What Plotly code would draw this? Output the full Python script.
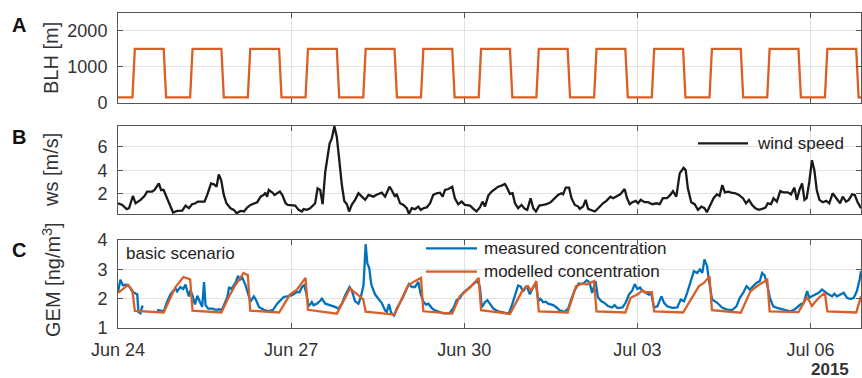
import pandas as pd
import plotly.graph_objects as go

# ---------------- data (hours since 2015-06-24 00:00) ----------------
START = "2015-06-24 00:00"
END_HOURS = 309

x_tick_hours = [0, 72, 144, 216, 288]
x_tick_labels = ["Jun 24", "Jun 27", "Jun 30", "Jul 03", "Jul 06"]

# A: boundary layer height [m]
blh_hours = [0, 6, 7, 19, 20, 30, 31, 43, 44, 54, 55, 67, 68, 78, 79, 91, 92,
             102, 103, 115, 116, 126, 127, 139, 140, 150, 151, 163, 164, 174,
             175, 187, 188, 198, 199, 211, 212, 222, 223, 235, 236, 246, 247,
             259, 260, 270, 271, 283, 284, 294, 295, 307, 308, 309]
blh_values = [150, 150, 1500, 1500, 150, 150, 1500, 1500, 150, 150, 1500, 1500,
              150, 150, 1500, 1500, 150, 150, 1500, 1500, 150, 150, 1500, 1500,
              150, 150, 1500, 1500, 150, 150, 1500, 1500, 150, 150, 1500, 1500,
              150, 150, 1500, 1500, 150, 150, 1500, 1500, 150, 150, 1500, 1500,
              150, 150, 1500, 1500, 150, 150]

# B: wind speed [m/s]
ws_hours = [0, 1.8, 3.6, 4.6, 6.2, 7.3, 9.4, 11.0, 12.1, 14.2, 15.2, 17.0, 17.9,
            19.0, 20.4, 21.8, 22.9, 24.6, 26.7, 28.1, 29.5, 30.8, 32.2, 33.2,
            35.0, 36.0, 37.1, 38.7, 39.9, 41.0, 41.9, 42.9, 44.0, 45.1, 46.8,
            48.2, 49.3, 51.0, 52.4, 53.7, 55.1, 56.5, 57.9, 59.3, 60.6, 61.3,
            62.0, 62.7, 64.1, 65.1, 66.2, 67.3, 68.3, 69.7, 70.6,
            71.6, 73.7, 75.1, 76.5, 77.2, 78.5, 79.9, 81.3, 82.0, 83.0, 84.1,
            85.1, 86.2, 88.0, 88.9, 90.0, 91.0, 92.1, 93.1, 94.1, 95.2, 96.1,
            97.2, 98.6, 100.0, 101.4, 102.8, 104.2, 105.3, 106.2, 107.3, 108.3,
            109.7, 111.1, 112.9, 113.8, 115.2, 115.9, 117.3, 118.7, 120.1,
            121.0, 122.2, 123.5, 124.9, 125.9, 127.0, 128.4, 129.8, 131.1,
            132.5, 133.9, 135.0, 136.0, 137.4, 139.0, 140.1, 141.5, 142.9,
            144.3, 146.4, 147.8, 149.1, 150.5, 151.6, 152.6, 154.0, 155.4,
            156.8, 158.1, 159.5, 160.9, 161.6, 163.0, 164.1, 165.1, 166.4,
            167.8, 169.2, 170.2, 171.6, 172.7, 173.8, 175.2, 176.8, 178.2,
            179.9, 181.7, 183.0, 184.4, 185.1, 186.2, 187.6, 188.6, 190.0,
            191.4, 192.0, 193.4, 194.5, 195.5, 196.9, 198.3, 199.7, 201.7,
            203.1, 204.8, 205.9, 207.3, 208.9, 210.7, 211.7, 212.8, 213.9,
            215.3, 216.3, 217.4, 219.0, 220.4, 222.2, 223.9, 225.3, 226.6,
            228.3, 229.7, 230.8, 232.2, 233.6, 235.2, 236.1, 237.0, 238.4,
            239.8, 241.2, 242.6, 243.9, 244.9, 246.3, 247.7, 249.1, 250.2,
            251.3, 252.4, 253.8, 255.0, 256.8, 258.2, 259.9, 261.2, 262.4,
            263.7, 265.1, 266.5, 267.9, 269.3, 270.2, 271.6, 272.6, 274.0,
            275.4, 276.7, 278.5, 279.9, 281.3, 282.3, 283.4, 284.5, 285.5,
            286.4, 287.5, 288.6, 289.6, 290.6, 291.7, 293.1, 294.5, 295.8,
            297.2, 298.3, 299.3, 300.3, 301.4, 302.8, 303.9, 305.3, 306.4,
            307.6, 309.0]
ws_values = [1.21, 1.07, 0.71, 0.79, 1.83, 1.21, 1.50, 1.83, 2.20, 2.20, 2.34,
             2.90, 2.34, 2.34, 1.64, 0.93, 0.42, 0.56, 0.59, 1.01, 0.79, 1.13,
             1.21, 1.35, 1.35, 1.35, 1.92, 2.90, 2.82, 2.62, 3.66, 3.18, 1.92,
             1.21, 0.79, 0.65, 0.37, 0.56, 0.51, 0.85, 1.07, 1.21, 1.30, 1.77,
             1.92, 2.11, 1.77, 2.34, 2.14, 1.92, 2.06, 2.20, 1.92, 1.21, 1.07,
             1.07, 1.01, 0.65, 0.51, 0.71, 0.65, 0.79, 1.13, 1.21, 2.48, 2.34,
             1.13, 3.89, 6.28, 6.71, 7.75, 6.85, 4.74, 2.76, 1.41, 1.13, 0.51,
             1.07, 1.50, 2.06, 1.77, 1.50, 1.92, 1.86, 1.77, 1.92, 2.00, 2.11,
             1.77, 2.62, 2.34, 1.77, 2.00, 1.21, 1.07, 0.79, 0.31, 0.79, 0.71,
             0.93, 0.65, 0.79, 0.85, 1.21, 1.92, 2.06, 2.11, 1.77, 2.34, 2.42,
             2.62, 1.64, 1.13, 1.35, 1.07, 1.01, 0.73, 0.51, 0.85, 1.35, 0.93,
             1.86, 2.20, 2.42, 2.62, 2.71, 2.85, 2.62, 2.00, 2.06, 1.21, 0.79,
             1.07, 0.73, 0.65, 1.64, 0.79, 0.51, 1.01, 1.07, 1.13, 1.30, 1.64,
             1.92, 2.06, 1.97, 2.54, 2.54, 1.64, 1.07, 0.93, 0.73, 0.93, 1.50,
             0.73, 0.65, 0.51, 0.79, 1.21, 1.41, 1.77, 1.64, 1.83, 1.97, 2.42,
             1.64, 1.13, 1.30, 1.41, 1.21, 1.50, 1.30, 1.30, 1.13, 1.21, 1.13,
             1.64, 1.64, 1.92, 2.25, 1.77, 3.75, 4.23, 4.03, 2.48, 1.30, 1.13,
             0.65, 0.93, 0.79, 0.45, 1.07, 1.64, 1.97, 1.83, 2.76, 2.14, 2.20,
             2.11, 2.06, 1.92, 1.64, 1.21, 1.50, 1.07, 0.79, 0.65, 0.73, 0.85,
             1.21, 1.13, 1.64, 1.35, 2.25, 2.14, 2.14, 1.97, 2.54, 1.50, 2.34,
             2.90, 1.50, 1.64, 3.04, 4.87, 4.03, 2.34, 1.50, 1.30, 1.41, 1.21,
             2.06, 1.77, 1.50, 1.21, 1.77, 1.35, 1.50, 1.97, 1.92, 1.30, 0.79]

# C: measured GEM concentration [ng/m3]  (None = missing data)
meas_hours = [0, 1, 2, 3.5, 4.9, 5.9, 7.3, 8.0, 8.5, 9.3, 10.0, 10.5, 11.0,
              16.3, 17.3, 18.3, 19.0, 20.4, 21.8, 23.2, 23.9, 24.6, 25.9, 27.1,
              28.1, 28.8, 29.5, 30.1, 31.1, 32.0, 33.0, 34.1, 35.0, 35.8, 36.4,
              37.5, 39.3, 40.7, 42.0, 43.2, 44.4, 45.5, 46.2, 47.1, 48.2, 48.9,
              49.9, 50.7, 51.7, 53.1, 54.0, 55.1, 56.5, 57.6, 58.6, 60.6, 62.7,
              64.5, 66.2, 67.6, 68.9, 70.3, 72.4, 74.4, 75.5, 76.5, 77.4, 78.3,
              79.2, 79.9, 80.6, 81.3, 82.7, 84.0, 84.8, 86.2, 88.2, 90.3, 91.7,
              93.1, 94.5, 95.5, 96.3, 97.2, 98.6, 100.0, 101.0, 102.1, 103.0,
              103.7, 104.5, 105.3, 106.9, 108.3, 109.7, 111.1, 111.8, 112.7,
              113.6, 114.8, 115.9, 117.3, 118.7, 120.1, 121.0, 122.2, 123.5,
              124.9, 125.9, 127.0, 128.1, 129.1, 130.5, 131.8, 133.2, 135.3,
              137.8, 139.5, 140.8, 142.2, 143.6, 145.0, 146.4, 147.5, 148.5,
              149.6, 150.5, 151.3, 152.6, 153.6, 154.7, 156.1, 158.1, 160.2,
              162.5, 163.7, 165.1, 166.4, 167.4, 168.5, 169.9, 171.3, 172.7,
              173.8, 174.8, 175.7, 176.8, 177.9, 178.9, 181.0, 182.4, 183.7,
              185.8, 187.2, 188.6, 190.0, 191.6, 193.3, 195.0, 196.1, 197.2,
              198.6, 199.6, 200.9, 202.4, 203.8, 205.5, 206.5, 207.7, 209.8,
              211.1, 212.5, 213.9, 214.9, 216.0, 217.1, 218.1, 219.4, 220.8,
              221.8, 222.9, 224.3, 226.0, 227.1, 228.4, 230.5, 232.6, 234.0,
              235.4, 236.7, 238.1, 239.5, 240.9, 242.0, 243.0, 243.9, 245.0,
              245.7, 247.1, 249.2, 251.3, 253.4, 255.4, 257.2, 258.6, 260.0,
              261.4, 262.8, 264.2, 265.5, 266.9, 267.9, 268.9, 270.0, 271.1,
              272.5, 274.1, 275.5, 277.6, 279.7, 281.7, 283.8, 285.2, 286.6,
              287.5, 288.6, 290.0, 291.4, 292.8, 294.2, 295.6, 297.0, 297.9,
              299.0, 300.4, 301.8, 303.2, 304.6, 306.0, 307.3, 308.4, 309.0]
meas_values = [2.23, 2.65, 2.46, 2.48, 2.40, 2.25, 2.18, 2.15, 1.55, 1.50, 1.72,
               1.75, None, 1.62, 1.60, 1.57, 1.57, 1.89, 2.15, 2.29, 2.35, 2.25,
               2.40, 2.33, 2.48, 2.25, 2.08, 2.29, 2.08, 1.80, 2.10, 1.89, 1.72,
               2.57, 1.78, 1.66, 1.66, 1.62, 1.64, 1.62, 1.83, 2.06, 2.40, 2.33,
               2.46, 2.55, 2.78, 2.65, 2.72, 2.45, 2.20, 1.90, 2.08, 1.92, 1.72,
               1.62, 1.58, 1.62, 1.83, 1.95, 2.06, 2.08, 2.12, 2.23, 2.22, 2.40,
               2.46, 2.20, 1.75, 1.80, 1.89, 1.78, 1.83, 1.92, 2.00, 1.83, 1.78,
               1.72, 1.66, 1.83, 2.12, 2.30, 2.40, 2.29, 1.91, 1.83, 2.06, 2.46,
               3.86, 3.20, 3.05, 2.50, 2.15, 2.00, 1.85, 1.60, 1.55, 1.82, 1.52,
               1.43, 1.66, 1.87, 2.08, 2.35, 2.50, 2.40, 2.40, 2.57, 2.15, 1.89,
               1.80, 1.83, 1.68, 1.60, 1.55, 1.50, 1.50, 1.68, 1.95, 2.03, 2.20,
               2.30, 2.42, 2.50, 2.55, 2.60, 2.40, 1.70, 1.88, 1.95, 1.83, 1.66,
               1.57, 1.52, 1.49, 1.75, 2.10, 2.45, 2.42, 2.25, 2.44, 2.15, 2.40,
               2.50, 1.92, 2.00, 1.88, 1.90, 1.83, 1.78, 1.70, 1.60, 1.55, 1.66,
               2.00, 2.30, 2.52, 2.50, 2.63, 2.55, 2.20, 2.60, 2.05, 1.92, 1.85,
               1.75, 1.70, 1.78, 1.68, 1.70, 1.86, 2.14, 2.28, 2.50, 2.33, 2.38,
               2.27, 2.20, 2.14, 2.18, 1.70, 1.74, 2.08, 1.86, 1.74, 1.69, 1.70,
               1.97, 1.91, 2.20, 2.54, 2.94, 2.88, 3.00, 2.88, 3.34, 3.11, 2.65,
               1.97, 1.86, 1.69, 1.63, 1.61, 1.74, 2.03, 2.20, 2.43, 2.31, 2.43,
               2.54, 2.60, 2.88, 2.80, 2.48, 2.03, 1.74, 1.69, 1.65, 1.61, 1.57,
               1.65, 1.80, 1.86, 2.26, 2.03, 2.08, 2.14, 2.20, 2.31, 2.22, 2.14,
               2.08, 2.17, 2.08, 2.14, 2.20, 2.03, 1.99, 2.03, 2.26, 2.65, 2.94]

# C: modelled GEM concentration [ng/m3]
mod_hours = [0, 4.2, 6, 7, 19, 21.8, 23.9, 27.2, 30, 31, 43, 46, 48.5, 52.2, 54,
             55, 67, 71.5, 74.4, 78, 79, 91, 96.5, 102, 103, 115, 120.6, 123.4,
             126, 127, 139, 142.1, 146.2, 150, 151, 163, 168.4, 170.5, 171.8,
             174, 175, 187, 190.5, 193.3, 195, 198, 199, 211, 213.2, 216, 218.1,
             219.4, 222, 223, 235, 241.6, 243.7, 246, 247, 259, 263, 265.8, 270,
             271, 283, 286.6, 288.6, 291.4, 294, 295, 307, 309]
mod_values = [2.20, 2.47, 2.28, 1.58, 1.53, 2.03, 2.40, 2.74, 2.66, 1.59, 1.53,
              2.05, 2.42, 2.88, 2.80, 1.59, 1.53, 2.14, 2.31, 2.71, 1.62, 1.49,
              2.35, 1.98, 1.56, 1.46, 2.45, 2.60, 2.71, 1.57, 1.49, 2.08, 2.37,
              2.71, 1.61, 1.48, 2.31, 2.43, 2.27, 2.60, 1.57, 1.53, 2.43, 2.52,
              2.48, 2.60, 1.57, 1.53, 2.03, 2.14, 2.28, 2.22, 2.22, 1.57, 1.53,
              2.43, 2.54, 2.77, 1.61, 1.52, 2.25, 2.43, 2.65, 1.57, 1.54, 2.06,
              1.75, 2.03, 2.20, 1.57, 1.53, 2.08]

# ---------------- figure ----------------
t0 = pd.Timestamp(START)


def to_time(hours):
    return [t0 + pd.Timedelta(hours=h) for h in hours]


ORANGE = "#D95F26"
BLUE = "#0072BD"
BLACK = "#1a1a1a"
FONT = "Liberation Sans, Arial, Helvetica, sans-serif"
TXT = "#333333"

fig = go.Figure()
fig.add_trace(go.Scatter(x=to_time(blh_hours), y=blh_values, mode="lines",
                         line=dict(color=ORANGE, width=2.3), xaxis="x", yaxis="y",
                         showlegend=False, name="BLH"))
fig.add_trace(go.Scatter(x=to_time(ws_hours), y=ws_values, mode="lines",
                         line=dict(color=BLACK, width=2.3), xaxis="x2", yaxis="y2",
                         showlegend=False, name="wind speed"))
fig.add_trace(go.Scatter(x=to_time(meas_hours), y=meas_values, mode="lines",
                         line=dict(color=BLUE, width=2.3), xaxis="x3", yaxis="y3",
                         connectgaps=False, showlegend=False,
                         name="measured concentration"))
fig.add_trace(go.Scatter(x=to_time(mod_hours), y=mod_values, mode="lines",
                         line=dict(color=ORANGE, width=2.3), xaxis="x3", yaxis="y3",
                         showlegend=False, name="modelled concentration"))

x_range = [t0, t0 + pd.Timedelta(hours=END_HOURS)]
x_ticks = to_time(x_tick_hours)

xcommon = dict(range=x_range, tickvals=x_ticks, ticktext=x_tick_labels,
               showgrid=True, gridcolor="#e2e2e2", gridwidth=1,
               showline=True, linecolor="#555555", linewidth=1, mirror="ticks",
               ticks="inside", ticklen=5, tickcolor="#555555", tickwidth=1,
               zeroline=False, automargin=False,
               tickfont=dict(family=FONT, size=18, color=TXT),
               ticklabelstandoff=5)
ycommon = dict(showgrid=True, gridcolor="#e2e2e2", gridwidth=1,
               showline=True, linecolor="#555555", linewidth=1, mirror="ticks",
               ticks="inside", ticklen=5, tickcolor="#555555", tickwidth=1,
               zeroline=False, automargin=False,
               tickfont=dict(family=FONT, size=18, color=TXT),
               ticklabelstandoff=6)

fig.update_layout(
    template="none",
    width=862, height=378,
    margin=dict(l=118, r=1, t=13, b=50, pad=0),
    paper_bgcolor="white", plot_bgcolor="white",
    showlegend=False,
    xaxis=dict(xcommon, anchor="y", showticklabels=False, matches="x3"),
    xaxis2=dict(xcommon, anchor="y2", showticklabels=False, matches="x3"),
    xaxis3=dict(xcommon, anchor="y3"),
    yaxis=dict(ycommon, domain=[0.715, 1.0], range=[0, 2500],
               tickvals=[0, 1000, 2000], anchor="x"),
    yaxis2=dict(ycommon, domain=[0.362, 0.642], range=[0.3, 7.8],
                tickvals=[2, 4, 6], anchor="x2"),
    yaxis3=dict(ycommon, domain=[0.0, 0.279], range=[1, 4],
                tickvals=[1, 2, 3, 4], anchor="x3"),
)

PW = 743.0   # plot width in px
PH = 315.0   # plot height in px


def px(xp):
    return (xp - 118) / PW


def py(yp):
    return (328 - yp) / PH


ann = []
for letter, yc in (("A", 25), ("B", 136.5), ("C", 249.5)):
    ann.append(dict(text=f"<b>{letter}</b>", x=px(19), y=py(yc), xref="paper",
                    yref="paper", showarrow=False, xanchor="center",
                    yanchor="middle", font=dict(family=FONT, size=20, color="#111111")))
for label, yc in (("BLH [m]", 58), ("ws [m/s]", 170), ("GEM [ng/m<sup>3</sup>]", 280)):
    ann.append(dict(text=label, x=px(51), y=py(yc), xref="paper", yref="paper",
                    showarrow=False, textangle=-90, xanchor="center",
                    yanchor="middle", font=dict(family=FONT, size=20, color=TXT)))
ann.append(dict(text="basic scenario", x=px(124), y=py(253.5), xref="paper",
                yref="paper", showarrow=False, xanchor="left", yanchor="middle",
                font=dict(family=FONT, size=17, color="#222222")))
ann.append(dict(text="wind speed", x=px(755), y=py(143.3), xref="paper",
                yref="paper", showarrow=False, xanchor="left", yanchor="middle",
                font=dict(family=FONT, size=17, color="#222222")))
ann.append(dict(text="measured concentration", x=px(482), y=py(248.3),
                xref="paper", yref="paper", showarrow=False, xanchor="left",
                yanchor="middle", font=dict(family=FONT, size=17, color="#222222")))
ann.append(dict(text="modelled concentration", x=px(482), y=py(271.7),
                xref="paper", yref="paper", showarrow=False, xanchor="left",
                yanchor="middle", font=dict(family=FONT, size=17, color="#222222")))
ann.append(dict(text="<b>2015</b>", x=px(851), y=py(369), xref="paper",
                yref="paper", showarrow=False, xanchor="right", yanchor="middle",
                font=dict(family=FONT, size=17, color=TXT)))
fig.update_layout(annotations=ann)

shapes = [
    dict(type="line", xref="paper", yref="paper", x0=px(698), x1=px(748),
         y0=py(143.3), y1=py(143.3), line=dict(color=BLACK, width=2.3)),
    dict(type="line", xref="paper", yref="paper", x0=px(426), x1=px(477),
         y0=py(248.3), y1=py(248.3), line=dict(color=BLUE, width=2.3)),
    dict(type="line", xref="paper", yref="paper", x0=px(426), x1=px(477),
         y0=py(271.7), y1=py(271.7), line=dict(color=ORANGE, width=2.3)),
]
fig.update_layout(shapes=shapes)

fig.write_html(
    "out.html",
    config={"displayModeBar": False},
    post_script="document.body.style.margin='0';document.body.style.padding='0';"
                "document.documentElement.style.overflow='hidden';",
)
